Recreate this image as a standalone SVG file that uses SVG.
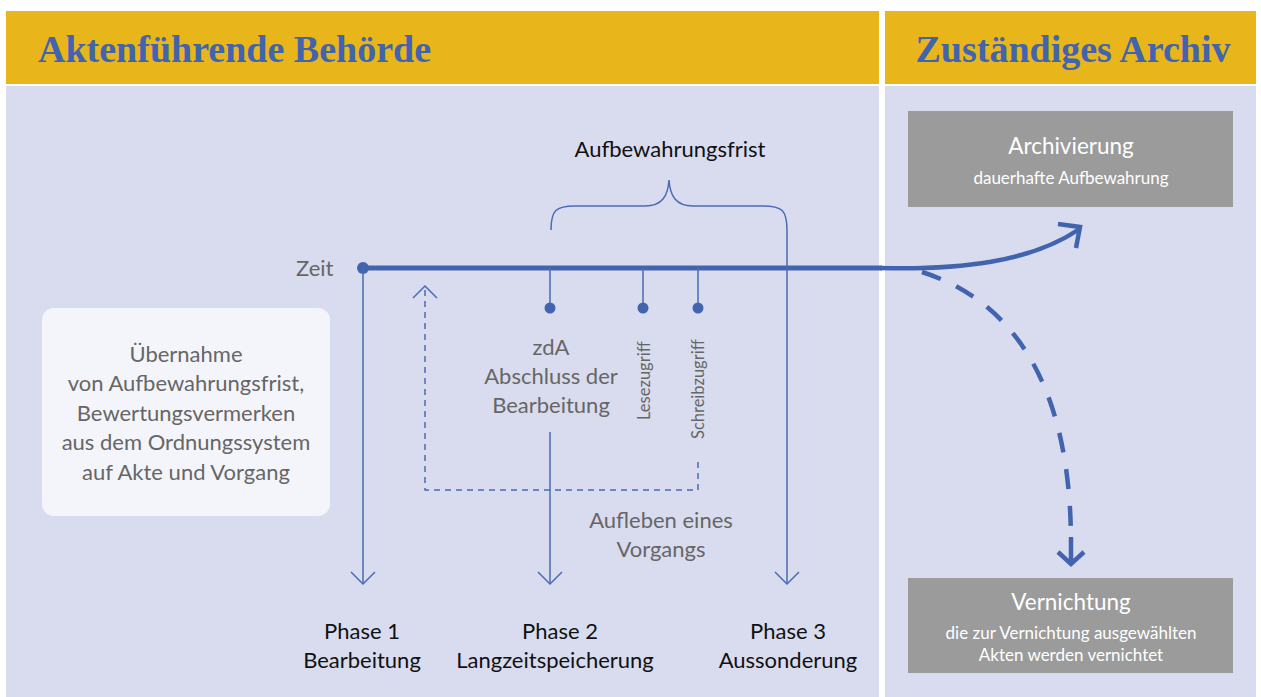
<svg xmlns="http://www.w3.org/2000/svg" width="1261" height="697" viewBox="0 0 1261 697">
<defs>
<style>
.hdr{fill:#e8b51a}
.bg{fill:#d9dcef}
.ht{font-family:"Liberation Serif","DejaVu Serif",serif;font-weight:bold;fill:#4264ae;font-size:38px}
.t{font-family:Lato,"Open Sans",sans-serif;font-size:22px}
.g{fill:#666666}
.k{fill:#111111}
.w{fill:#ffffff}
.thin{stroke:#4a6bb5;stroke-width:1.5;fill:none}
.box{fill:#9b9b9b}
</style>
</defs>
<rect width="1261" height="697" fill="#ffffff"/>
<g id="header-left">
<rect class="hdr" x="6" y="11" width="873" height="73"/>
<text class="ht" x="38" y="62">Aktenführende Behörde</text>
</g>
<g id="header-right">
<rect class="hdr" x="885" y="11" width="371" height="73"/>
<text class="ht" x="1073" y="62" text-anchor="middle">Zuständiges Archiv</text>
</g>
<rect class="bg" x="6" y="86" width="873" height="611"/>
<rect class="bg" x="885" y="86" width="371" height="611"/>

<g id="connectors">
<line x1="363" y1="268" x2="882" y2="268" stroke="#4264ae" stroke-width="5"/>
<circle cx="363" cy="268" r="6" fill="#4264ae"/>
<path d="M880,268 C960,270 1030,262 1078,230" fill="none" stroke="#4264ae" stroke-width="4.5"/>
<path d="M1058,224 L1080,227 L1076,248" fill="none" stroke="#4264ae" stroke-width="4.5"/>
<path d="M922,272 C1010,300 1070,380 1071,540" fill="none" stroke="#4264ae" stroke-width="4.5" stroke-dasharray="20,17"/>
<path d="M1058,552 L1071,564 L1084,552 M1071,537 L1071,564" fill="none" stroke="#4264ae" stroke-width="4.5"/>
<line class="thin" x1="363" y1="268" x2="363" y2="584"/>
<path class="thin" d="M351,572 L363,584 L375,572"/>
<line class="thin" x1="550" y1="268" x2="550" y2="308"/>
<circle cx="550" cy="308" r="5.5" fill="#4264ae"/>
<line class="thin" x1="550" y1="432" x2="550" y2="584"/>
<path class="thin" d="M538,572 L550,584 L562,572"/>
<line class="thin" x1="643" y1="268" x2="643" y2="308"/>
<circle cx="643" cy="308" r="5.5" fill="#4264ae"/>
<line class="thin" x1="698" y1="268" x2="698" y2="308"/>
<circle cx="698" cy="308" r="5.5" fill="#4264ae"/>
<line class="thin" x1="787" y1="230" x2="787" y2="584"/>
<path class="thin" d="M775,572 L787,584 L799,572"/>
<path class="thin" d="M551,230 C551,210 556,206 575,206 L645,206 C662,206 668,196 669,180 C670,196 676,206 693,206 L763,206 C782,206 787,210 787,230"/>
<path class="thin" d="M698,462 L698,490 L425,490 L425,286" stroke-dasharray="6,5"/>
<path class="thin" d="M413,298 L425,286 L437,298"/>
</g>

<g id="zeit"><text class="t g" x="296" y="276">Zeit</text></g>
<g id="frist"><text class="t k" x="670" y="157" text-anchor="middle">Aufbewahrungsfrist</text></g>
<g id="zda">
<text class="t g" text-anchor="middle"><tspan x="551" y="355">zdA</tspan><tspan x="551" y="384">Abschluss der</tspan><tspan x="551" y="413">Bearbeitung</tspan></text>
</g>
<g id="lese"><text class="t g" style="font-size:16.5px" transform="translate(650,420) rotate(-90)">Lesezugriff</text></g>
<g id="schreib"><text class="t g" style="font-size:16.5px" transform="translate(704,439) rotate(-90)">Schreibzugriff</text></g>
<g id="aufleben">
<text class="t g" text-anchor="middle"><tspan x="661" y="528">Aufleben eines</tspan><tspan x="661" y="557">Vorgangs</tspan></text>
</g>
<g id="uebernahme">
<rect x="42" y="308" width="288" height="208" rx="12" fill="#f4f5fb"/>
<text class="t g" text-anchor="middle"><tspan x="186" y="362">Übernahme</tspan><tspan x="186" y="391">von Aufbewahrungsfrist,</tspan><tspan x="186" y="421">Bewertungsvermerken</tspan><tspan x="186" y="450">aus dem Ordnungssystem</tspan><tspan x="186" y="480">auf Akte und Vorgang</tspan></text>
</g>
<g id="phase1"><text class="t k" text-anchor="middle"><tspan x="362" y="639">Phase 1</tspan><tspan x="362" y="668">Bearbeitung</tspan></text></g>
<g id="phase2"><text class="t k" text-anchor="middle"><tspan x="560" y="639">Phase 2</tspan><tspan x="555" y="668">Langzeitspeicherung</tspan></text></g>
<g id="phase3"><text class="t k" text-anchor="middle"><tspan x="788" y="639">Phase 3</tspan><tspan x="788" y="668">Aussonderung</tspan></text></g>
<g id="archivierung">
<rect class="box" x="908" y="111" width="325" height="96"/>
<text class="t w" x="1071" y="154" text-anchor="middle" style="font-size:22.5px">Archivierung</text>
<text class="t w" x="1071" y="184" text-anchor="middle" style="font-size:17px">dauerhafte Aufbewahrung</text>
</g>
<g id="vernichtung">
<rect class="box" x="908" y="578" width="325" height="95"/>
<text class="t w" x="1071" y="610" text-anchor="middle" style="font-size:22.5px">Vernichtung</text>
<text class="t w" x="1071" y="639" text-anchor="middle" style="font-size:17px">die zur Vernichtung ausgewählten</text>
<text class="t w" x="1071" y="661" text-anchor="middle" style="font-size:17px">Akten werden vernichtet</text>
</g>
</svg>
